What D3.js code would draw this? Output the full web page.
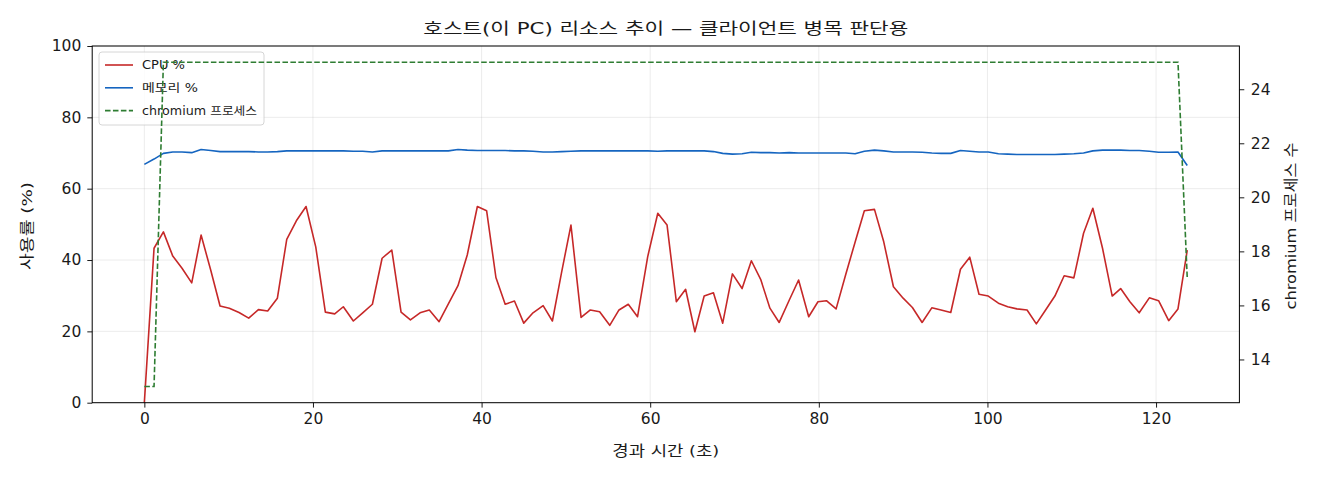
<!DOCTYPE html>
<html><head><meta charset="utf-8">
<script src="https://cdn.jsdelivr.net/npm/d3@7"></script>
<style>
html,body{margin:0;padding:0;background:#fff;}
svg text{font-family:"DejaVu Sans","Noto Sans CJK KR",sans-serif;fill:#1a1a1a;}
</style></head>
<body><svg id="c" width="1320" height="480"></svg>
<script>
const times = [0,1.15,2.26,3.37,4.47,5.62,6.73,7.87,8.98,10.08,
11.23,12.38,13.53,14.63,15.78,16.89,18.03,19.18,20.33,21.47,
22.58,23.6,24.79,25.9,27.05,28.2,29.35,30.45,31.56,32.7,
33.8,34.96,36.06,37.2,38.3,39.5,40.6,41.7,42.8,43.9,
45.0,46.1,47.3,48.4,49.5,50.6,51.8,52.9,54.0,55.2,
56.3,57.4,58.5,59.7,60.9,62.0,63.1,64.2,65.3,66.4,
67.5,68.6,69.75,70.9,72.0,73.1,74.2,75.3,76.5,77.6,
78.8,79.9,80.9,82.05,83.2,84.3,85.4,86.6,87.7,88.85,
90.0,91.1,92.25,93.4,94.5,95.65,96.8,97.9,99.0,100.1,
101.3,102.4,103.5,104.7,105.8,106.9,108.0,109.1,110.25,111.4,
112.5,113.65,114.8,115.8,116.9,118.0,119.2,120.3,121.5,122.6,
123.7];
const cpu = [0,43.3,47.9,41.1,37.7,33.6,47.0,37.2,27.1,26.5,
25.3,23.7,26.1,25.7,29.3,45.8,51.0,55.0,43.7,25.4,
24.9,26.9,22.9,25.2,27.6,40.5,42.8,25.4,23.2,25.2,
26.0,22.7,27.7,32.8,41.4,55.0,53.8,35.1,27.6,28.5,
22.3,25.2,27.2,22.9,36.7,49.8,23.9,26.0,25.5,21.7,
26.0,27.6,24.1,40.9,53.1,49.8,28.3,31.8,19.9,29.9,
30.8,22.3,36.1,32.0,39.8,34.6,26.5,22.5,28.8,34.4,
24.1,28.3,28.6,26.3,36.0,45.0,53.8,54.2,45.1,32.5,
29.3,26.7,22.5,26.6,26.0,25.3,37.4,40.8,30.4,29.9,
27.9,26.9,26.3,26.0,22.1,26.0,29.9,35.6,35.0,47.5,
54.5,43.3,29.9,32.0,28.3,25.2,29.4,28.6,23.0,26.3,
42.8];
const mem = [66.8,68.3,69.9,70.3,70.3,70.1,71.0,70.7,70.4,70.4,
70.4,70.4,70.3,70.3,70.4,70.6,70.6,70.6,70.6,70.6,
70.6,70.6,70.5,70.5,70.3,70.6,70.6,70.6,70.6,70.6,
70.6,70.6,70.6,71.0,70.8,70.7,70.7,70.7,70.7,70.6,
70.6,70.5,70.3,70.3,70.4,70.5,70.6,70.6,70.6,70.6,
70.6,70.6,70.6,70.6,70.5,70.6,70.6,70.6,70.6,70.6,
70.4,69.9,69.7,69.8,70.2,70.1,70.1,70.0,70.1,70.0,
70.0,70.0,70.0,70.0,70.0,69.8,70.5,70.8,70.6,70.3,
70.3,70.3,70.2,70.0,69.9,69.9,70.7,70.5,70.3,70.3,
69.8,69.7,69.6,69.6,69.6,69.6,69.6,69.7,69.8,70.0,
70.6,70.8,70.8,70.8,70.7,70.7,70.5,70.2,70.2,70.3,
66.5];
const chromium = [13,13,25,25,25,25,25,25,25,25,
25,25,25,25,25,25,25,25,25,25,
25,25,25,25,25,25,25,25,25,25,
25,25,25,25,25,25,25,25,25,25,
25,25,25,25,25,25,25,25,25,25,
25,25,25,25,25,25,25,25,25,25,
25,25,25,25,25,25,25,25,25,25,
25,25,25,25,25,25,25,25,25,25,
25,25,25,25,25,25,25,25,25,25,
25,25,25,25,25,25,25,25,25,25,
25,25,25,25,25,25,25,25,25,25,
17];
const xTicks = [0,20,40,60,80,100,120];
const yTicks = [0,20,40,60,80,100];
const y2Ticks = [14,16,18,20,22,24];
const seriesNames = ["CPU %","메모리 %","chromium 프로세스"];
const colors = ["#c62828","#1565c0","#2e7d32"];
const title = "호스트(이 PC) 리소스 추이 — 클라이언트 병목 판단용";
const xLabel = "경과 시간 (초)";
const yLabel = "사용률 (%)";
const y2Label = "chromium 프로세스 수";

const L=92.2, R=1239.4, T=46, B=402.7;
const svg = d3.select("#c");
function pad(ext){const d=(ext[1]-ext[0])*0.05;return [ext[0]-d,ext[1]+d];}
const x = d3.scaleLinear().domain(pad(d3.extent(times))).range([L,R]);
const y = d3.scaleLinear().domain([0,100]).range([B,T]);
const y2 = d3.scaleLinear().domain(pad(d3.extent(chromium))).range([B,T]);

// grid
const g = svg.append("g");
g.selectAll(".gx").data(xTicks).enter().append("line")
 .attr("x1",d=>x(d)).attr("x2",d=>x(d)).attr("y1",T).attr("y2",B)
 .attr("stroke","#b0b0b0").attr("stroke-opacity",0.3).attr("stroke-width",0.8);
g.selectAll(".gy").data(yTicks).enter().append("line")
 .attr("x1",L).attr("x2",R).attr("y1",d=>y(d)).attr("y2",d=>y(d))
 .attr("stroke","#b0b0b0").attr("stroke-opacity",0.3).attr("stroke-width",0.8);

const idx = d3.range(times.length);
const lineCpu = d3.line().x(i=>x(times[i])).y(i=>y(cpu[i]));
const lineMem = d3.line().x(i=>x(times[i])).y(i=>y(mem[i]));
const lineChr = d3.line().x(i=>x(times[i])).y(i=>y2(chromium[i]));

svg.append("path").attr("d",lineCpu(idx)).attr("fill","none").attr("stroke",colors[0]).attr("stroke-width",1.6).attr("stroke-linejoin","round");
svg.append("path").attr("d",lineMem(idx)).attr("fill","none").attr("stroke",colors[1]).attr("stroke-width",1.6).attr("stroke-linejoin","round");

// legend
const legendW = [43,56,115];
const lg = svg.append("g");
lg.append("rect").attr("x",99).attr("y",52).attr("width",165).attr("height",73).attr("rx",3)
 .attr("fill","#fff").attr("fill-opacity",0.8).attr("stroke","#cccccc").attr("stroke-width",0.8);
seriesNames.forEach((n,i)=>{
  const yy = 65 + i*22.8;
  lg.append("line").attr("x1",105).attr("x2",133).attr("y1",yy).attr("y2",yy)
    .attr("stroke",colors[i]).attr("stroke-width",1.6)
    .attr("stroke-dasharray", i===2 ? "5.55,2.4" : null);
  lg.append("text").attr("x",142).attr("y",yy).attr("dy","0.35em")
    .attr("textLength",legendW[i]).attr("lengthAdjust","spacingAndGlyphs")
    .style("font-size","11.5px").text(n);
});

svg.append("path").attr("d",lineChr(idx)).attr("fill","none").attr("stroke",colors[2]).attr("stroke-width",1.6).attr("stroke-dasharray","5.55,2.4");

// frame
svg.append("rect").attr("x",L).attr("y",T).attr("width",R-L).attr("height",B-T)
 .attr("fill","none").attr("stroke","#000").attr("stroke-width",1);

// axes
function styleAxis(sel){
  sel.select(".domain").remove();
  sel.selectAll(".tick line").attr("stroke","#000").attr("stroke-width",0.9);
  sel.selectAll(".tick text").style("font-size","15.5px").attr("fill","#1a1a1a");
}
svg.append("g").attr("transform",`translate(0,${B})`)
 .call(d3.axisBottom(x).tickValues(xTicks).tickSize(4.9).tickPadding(5.5).tickFormat(d3.format("d"))).call(styleAxis);
svg.append("g").attr("transform",`translate(${L},0)`)
 .call(d3.axisLeft(y).tickValues(yTicks).tickSize(4.9).tickPadding(6).tickFormat(d3.format("d"))).call(styleAxis);
svg.append("g").attr("transform",`translate(${R},0)`)
 .call(d3.axisRight(y2).tickValues(y2Ticks).tickSize(4.9).tickPadding(6.5).tickFormat(d3.format("d"))).call(styleAxis);

svg.append("text").attr("x",(L+R)/2).attr("y",28).attr("text-anchor","middle").attr("dy","0.35em")
 .attr("textLength",485).attr("lengthAdjust","spacingAndGlyphs")
 .style("font-size","16px").text(title);
svg.append("text").attr("x",(L+R)/2).attr("y",451).attr("text-anchor","middle").attr("dy","0.35em")
 .attr("textLength",107).attr("lengthAdjust","spacingAndGlyphs")
 .style("font-size","14.5px").text(xLabel);
svg.append("text").attr("transform",`translate(27,226) rotate(-90)`).attr("text-anchor","middle").attr("dy","0.35em")
 .attr("textLength",88).attr("lengthAdjust","spacingAndGlyphs")
 .style("font-size","14.5px").text(yLabel);
svg.append("text").attr("transform",`translate(1291,226) rotate(-90)`).attr("text-anchor","middle").attr("dy","0.35em")
 .attr("textLength",167).attr("lengthAdjust","spacingAndGlyphs")
 .style("font-size","14.5px").text(y2Label);
</script></body></html>
